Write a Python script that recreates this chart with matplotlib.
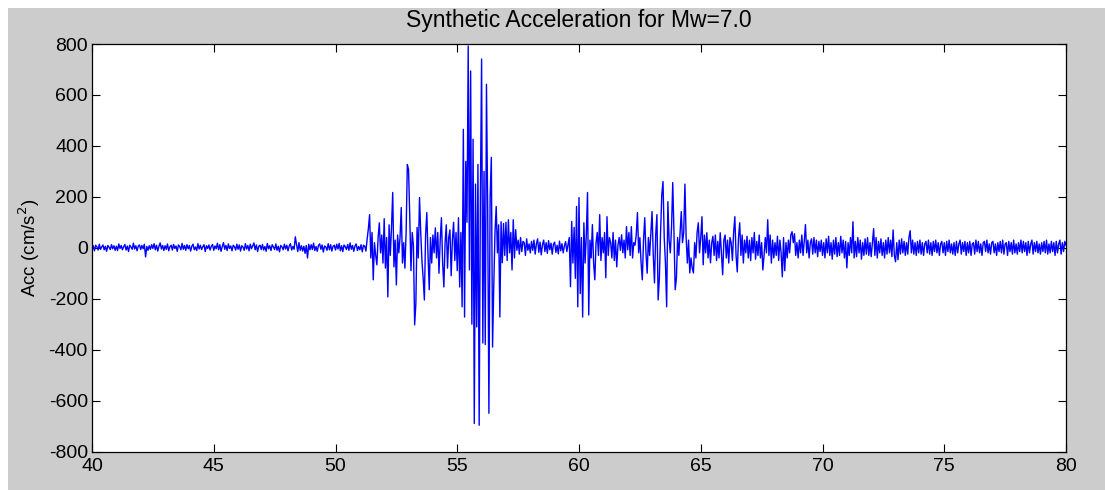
import numpy as np
import matplotlib
matplotlib.use('Agg')
import matplotlib.pyplot as plt
from matplotlib.patches import Rectangle

plt.rcParams['font.family'] = ['Liberation Sans', 'DejaVu Sans']
plt.rcParams['axes.unicode_minus'] = False

# sample clock
t_start = 40.0
dt = 0.05

# acceleration (cm/s^2), 20 samples per second
pre_event = [  # 40 - 51 s
    -5, 8, -12, 10, 4, -9, 14, -6, 3, 11, -8, 6, -14, 9, 2, -7, 12, -4, 8, -10,
    6, -11, 15, -3, 9, -8, 4, 13, -9, 7, -15, 10, 3, -6, 18, -5, 8, -12, 6, 11,
    -7, 9, -4, 14, -36, 5, -10, 8, -6, 12, -3, 16, -8, 10, -13, 6, 19, -5, 9, -11,
    8, -6, 15, -12, 4, 10, -9, 13, -3, 7, -14, 11, 5, -8, 17, -6, 9, -10, 12, -4,
    9, -13, 6, 14, -8, 3, -11, 16, -5, 10, -7, 4, 12, -15, 8, -3, 11, -9, 6, 13,
    -10, 7, -4, 18, -8, 12, -14, 5, 20, -6, 9, -11, 15, -3, 7, -12, 10, 4, -9, 14,
    -6, 11, -13, 8, 3, -10, 16, -5, 9, -12, 14, -4, 7, 19, -8, 11, -15, 6, 10, -7,
    13, -9, 5, -14, 17, -4, 8, -11, 12, 3, -7, 15, -10, 6, -16, 9, 4, -8, 14, -5,
    10, -12, 7, 16, -9, 5, -6, 43, 12, -15, 20, -10, 8, -13, 6, -22, 9, -40, 14, -8,
    12, -7, 18, -11, 5, -14, 9, 15, -6, 11, -17, 7, 3, -10, 16, -8, 12, -13, 6, 10,
    -9, 14, -5, 17, -12, 8, -15, 11, 4, -7, 13, -10, 19, -6, 9, -14, 7, 15, -11, 5,
]
strong_motion = [  # 51 - 57 s
    -8, 12, -16, 10, 6, -13, 35, 75, 130, -40, 60, -126, 20, -30, -67, 40, 98, -20, 50, -60,
    114, -80, 40, -193, 90, -30, 80, 217, -75, 30, -146, 50, -20, 40, 158, -60, 20, -80, 60, 327,
    307, 120, -90, 60, 10, -303, -220, 80, -40, 197, 60, -50, -120, -205, 50, 138, -30, -165, 40, -60,
    50, -20, 78, -40, 60, -100, 30, 118, -60, -154, 20, 90, -80, 40, 70, -110, 30, 100, -50, 60,
    -90, 118, -154, 60, -232, 465, -272, 339, 100, 792, -87, 694, -300, 426, -690, 250, -311, 327, -697, 200,
    741, -374, 300, -380, 642, 150, -650, 200, 355, -390, -150, 60, 162, -20, 90, -272, 102, -59, 95, -30,
]
quiet_gap = [  # 57 - 59 s
    100, -50, 110, -20, 60, -87, 110, -40, 71, -10, 30, -25, 40, -15, 25, 20, -30, 35, -10, 15,
    -20, 25, -10, 30, -25, 15, 35, -18, 22, -28, 12, 30, -15, 20, -22, 28, -8, 18, -25, 14,
]
second_burst = [  # 59 - 66 s
    22, -18, 10, -24, 26, -12, 16, -20, 8, 24, -15, 12, 40, -153, 103, -60, 80, -120, 162, -232,
    197, -180, 40, -272, 98, -60, 50, 217, -264, 30, -40, 91, -60, -126, 20, 60, -30, 130, -50, 40,
    -20, 60, -118, 122, -30, 40, 20, -40, 60, -50, 30, -75, 10, 40, -10, 51, -20, 30, -40, 83,
    -8, 60, -30, 83, -40, 20, 10, 50, 138, -20, 40, -60, -126, 30, 118, -20, -100, 40, -30, 60,
    142, -30, -138, 50, 130, -205, -120, 60, 209, 260, 40, -60, -232, 181, 30, -20, 80, 256, 60, -165,
    -120, 40, -30, 60, 142, 20, 60, 250, 40, -60, 30, -99, -40, -80, -99, 20, -40, 60, 98, -20,
    40, 122, -67, 50, -20, 59, -40, 30, -59, 20, 45, -30, 50, -50, 25, -40, 59, -20, -106, 30,
]
coda = [  # 66 - 80 s
    50, -40, 30, -60, 40, 20, -50, 60, 122, -30, -95, 40, 98, -30, 50, -60, 30, -20, 45, -40,
    30, -50, 40, -20, 60, -45, 25, -30, 50, -40, 20, -87, -30, 40, -20, 110, -30, 50, -60, 30,
    -40, 20, -30, 45, -50, 30, -20, -114, 40, -90, 20, -40, 30, -20, 50, 63, 20, 55, -30, 20,
    -40, 30, -20, 50, -30, 25, 91, -20, 30, -40, 20, 35, -25, 40, -20, 30, -35, 25, -15, 30,
    -30, 20, -40, 35, -20, 45, -30, 20, -45, 30, -25, 40, -35, 20, -30, 45, -20, 30, -40, 25,
    -79, 20, -30, 40, -20, 102, -40, 25, -35, 40, -20, 30, -45, 20, -30, 35, -25, 40, -30, 20,
    -35, 20, 75, -30, 40, -40, 25, -20, 35, -30, 20, -40, 30, -25, 40, -20, 30, -35, 70, -30,
    -55, 20, -47, 30, -25, 35, -20, 25, -30, 20, -25, 40, 67, -20, 30, -25, 20, -30, 25, -20,
    30, -25, 20, -30, 15, 25, -20, 30, -25, 20, -30, 25, -15, 30, -20, 20, -30, 15, 25, -20,
    20, -30, 25, -15, 30, -20, 15, -25, 20, -30, 25, -20, 15, 30, -25, 20, -15, 25, -30, 20,
    -20, 25, -30, 15, 20, -25, 30, -15, 25, -20, 15, -30, 20, 25, -15, 30, -20, 15, -25, 20,
    25, -20, 15, -30, 20, -15, 25, -20, 30, -25, 15, 20, -30, 25, -15, 20, -25, 30, -20, 15,
    -25, 20, -15, 30, -20, 25, -15, 20, -30, 25, -20, 15, 30, -25, 20, -15, 25, -20, 15, -25,
    20, -15, 25, -20, 30, -25, 15, -20, 25, -15, 20, -30, 25, -20, 15, 30, -25, 20, -15, 25, 10,
]

acc = np.array(pre_event + strong_motion + quiet_gap + second_burst + coda, dtype=float)
t = t_start + dt * np.arange(len(acc))

x_ticks = [40, 45, 50, 55, 60, 65, 70, 75, 80]
y_ticks = [-800, -600, -400, -200, 0, 200, 400, 600, 800]

fig = plt.figure(figsize=(11.05, 4.9), dpi=100, facecolor='white')
# grey MATLAB-style window, with a thin white strip top and left
fig.patches.append(Rectangle((8 / 1105, 0), 1, 482 / 490, transform=fig.transFigure,
                             facecolor='#cccccc', edgecolor='none', zorder=-10))

ax = fig.add_axes([92 / 1105, 1 - 451.5 / 490, (1066 - 92) / 1105, (451.5 - 44) / 490])
ax.set_zorder(5)
ax.plot(t, acc, color='#0000ff', linewidth=1.0)

ax.set_xlim(40, 80)
ax.set_ylim(-800, 800)
ax.set_xticks(x_ticks)
ax.set_yticks(y_ticks)
ax.tick_params(direction='in', length=6, width=0.8, top=True, right=True,
               labelsize=14)
ax.tick_params(axis='x', pad=5)
ax.tick_params(axis='y', pad=3)
for s in ax.spines.values():
    s.set_linewidth(0.9)

ax.set_ylabel('Acc (cm/s$^2$)', fontsize=13.5, labelpad=5)
ax.set_title('Synthetic Acceleration for Mw=7.0', fontsize=16.5, pad=12)

fig.savefig('out.png', dpi=100, facecolor=fig.get_facecolor())
